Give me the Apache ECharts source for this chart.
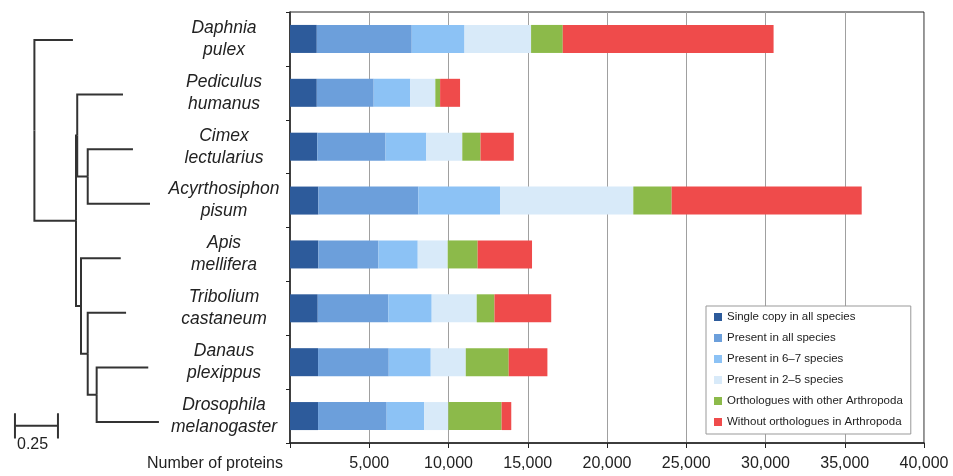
<!DOCTYPE html>
<html>
<head>
<meta charset="utf-8">
<script src="https://cdn.jsdelivr.net/npm/echarts@6/dist/echarts.min.js"></script>
<style>
html,body{margin:0;padding:0;background:#fff;}
#chart{width:953px;height:476px;}
</style>
</head>
<body>
<div id="chart"></div>
<script>
// ---- data ----
const species = ['Daphnia\npulex','Pediculus\nhumanus','Cimex\nlectularius','Acyrthosiphon\npisum','Apis\nmellifera','Tribolium\ncastaneum','Danaus\nplexippus','Drosophila\nmelanogaster'];
const seriesNames = ['Single copy in all species','Present in all species','Present in 6\u20137 species','Present in 2\u20135 species','Orthologues with other Arthropoda','Without orthologues in Arthropoda'];
const singleCopy  = [1690, 1690, 1720, 1790, 1790, 1750, 1770, 1770];
const presentAll  = [5990, 3590, 4310, 6310, 3790, 4460, 4460, 4330];
const present67   = [3330, 2310, 2570, 5150, 2480, 2730, 2650, 2360];
const present25   = [4200, 1580, 2270, 8410, 1890, 2840, 2210, 1530];
const orthoArthro = [2000,  300, 1150, 2420, 1890, 1120, 2710, 3360];
const noOrtho     = [13300, 1260, 2100, 11990, 3430, 3580, 2440, 610];
const xTicks = [0, 5000, 10000, 15000, 20000, 25000, 30000, 35000, 40000];

// phylogenetic tree: node names, parent index, cumulative branch length, leaf row (-1 = internal)
const treeNodes  = ['root','Daphnia','Insecta','Paraneoptera','Pediculus','Hemiptera','Cimex','Acyrthosiphon','Holometabola','Apis','Node10','Tribolium','Mecopterida','Danaus','Drosophila'];
const treeParent = [-1, 0, 0, 2, 3, 3, 5, 5, 2, 8, 8, 10, 10, 12, 12];
const treeDepth  = [0, 0.224, 0.242, 0.249, 0.515, 0.31, 0.573, 0.672, 0.271, 0.502, 0.31, 0.533, 0.362, 0.662, 0.724];
const treeLeafRow= [-1, 0, -1, -1, 1, -1, 2, 3, -1, 4, -1, 5, -1, 6, 7];
const scaleBarLength = 0.25;
const scaleBarLabel = '0.25';

// ---- build ----
const colors = ['#2d5b9b','#6c9fdb','#8cc2f5','#d8eaf9','#8cba4a','#ef4b4b'];
const valueArrays = [singleCopy, presentAll, present67, present25, orthoArthro, noOrtho];

// compute tree node y (leaves at row index, internal at midpoint of children)
const nodeY = new Array(treeNodes.length);
function computeY(i){
  if (treeLeafRow[i] >= 0) { nodeY[i] = treeLeafRow[i]; return nodeY[i]; }
  const ys = [];
  for (let c = 0; c < treeNodes.length; c++) if (treeParent[c] === i) ys.push(computeY(c));
  nodeY[i] = (Math.min(...ys) + Math.max(...ys)) / 2;
  return nodeY[i];
}
computeY(0);
const treeLines = [];
for (let i = 0; i < treeNodes.length; i++) {
  const p = treeParent[i];
  if (p < 0) continue;
  treeLines.push({coords: [[treeDepth[p], nodeY[p]], [treeDepth[p], nodeY[i]], [treeDepth[i], nodeY[i]]]});
}
const sbX0 = -0.113, sbY = 7.07, sbCap = 0.23;
const scaleLines = [
  {coords: [[sbX0, sbY], [sbX0 + scaleBarLength, sbY]]},
  {coords: [[sbX0, sbY - sbCap], [sbX0, sbY + sbCap]]},
  {coords: [[sbX0 + scaleBarLength, sbY - sbCap], [sbX0 + scaleBarLength, sbY + sbCap]]}
];

const FONT = '"Liberation Sans", Arial, Helvetica, sans-serif';
const chart = echarts.init(document.getElementById('chart'), null, {renderer: 'canvas'});
const barSeries = seriesNames.map((n, k) => ({
  name: n, type: 'bar', stack: 'total', xAxisIndex: 0, yAxisIndex: 0,
  barWidth: '52%', data: valueArrays[k], itemStyle: {color: colors[k]}, silent: true
}));

chart.setOption({
  animation: false,
  textStyle: {fontFamily: FONT},
  grid: [
    {left: 290, right: 29, top: 12, bottom: 33, show: true, borderColor: '#222', borderWidth: 1, containLabel: false},
    {left: 0, top: 12.7, width: 172, height: 436.6, containLabel: false}
  ],
  xAxis: [
    {gridIndex: 0, type: 'value', min: xTicks[0], max: xTicks[xTicks.length-1], interval: xTicks[1]-xTicks[0],
     axisLine: {show: true, lineStyle: {color: '#222', width: 1.5}},
     axisTick: {show: true, length: 5, lineStyle: {color: '#222'}},
     axisLabel: {fontSize: 16, color: '#222', margin: 13, fontFamily: FONT,
       formatter: v => v === 0 ? '' : v.toLocaleString('en-US')},
     splitLine: {show: true, lineStyle: {color: '#a0a0a0', width: 1}},
     name: 'Number of proteins', nameLocation: 'start', nameGap: 7,
     nameTextStyle: {fontSize: 16, color: '#222', verticalAlign: 'top', padding: [13, 0, 0, 0], fontFamily: FONT}},
    {gridIndex: 1, type: 'value', min: -0.2, max: 0.8, show: false}
  ],
  yAxis: [
    {gridIndex: 0, type: 'category', data: species, inverse: true,
     axisLine: {show: true, lineStyle: {color: '#222', width: 1.5}},
     axisTick: {show: true, length: 4, lineStyle: {color: '#222'}},
     axisLabel: {fontSize: 17.5, fontStyle: 'italic', color: '#222', lineHeight: 22, align: 'center', margin: 66, fontFamily: FONT,
       padding: [4, 0, 0, 0]},
     splitLine: {show: false}},
    {gridIndex: 1, type: 'value', inverse: true, min: -0.5, max: 7.5, show: false}
  ],
  legend: {
    data: seriesNames, orient: 'vertical', left: 706, top: 306,
    itemWidth: 8, itemHeight: 8, itemGap: 9, icon: 'rect',
    textStyle: {fontSize: 11.5, color: '#222', lineHeight: 12, fontFamily: FONT},
    padding: [5, 8, 6, 8], borderColor: '#999', borderWidth: 1, backgroundColor: '#fff',
    selectedMode: false
  },
  graphic: [
    {type: 'text', left: 17, top: 437, style: {text: scaleBarLabel, fontSize: 16, fill: '#222', fontFamily: FONT}}
  ],
  series: barSeries.concat([
    {type: 'lines', coordinateSystem: 'cartesian2d', xAxisIndex: 1, yAxisIndex: 1, polyline: true, silent: true,
     data: treeLines, lineStyle: {color: '#333', width: 2, opacity: 1, curveness: 0}},
    {type: 'lines', coordinateSystem: 'cartesian2d', xAxisIndex: 1, yAxisIndex: 1, polyline: true, silent: true,
     data: scaleLines, lineStyle: {color: '#333', width: 2, opacity: 1, curveness: 0}}
  ])
});
</script>
</body>
</html>
